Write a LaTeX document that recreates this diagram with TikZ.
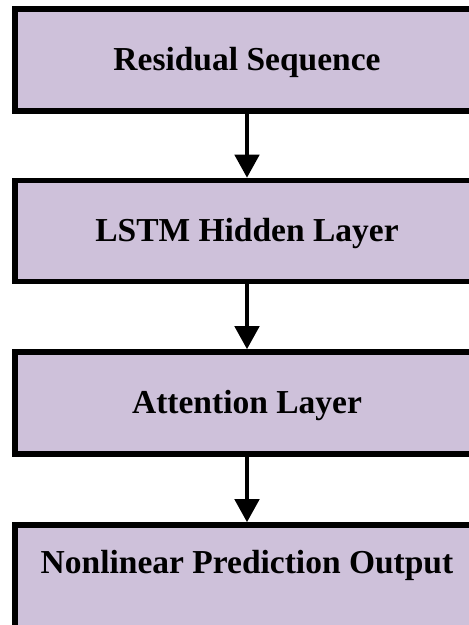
\documentclass[tikz,border=0pt]{standalone}
\usepackage{fontspec}
\setmainfont{Liberation Serif}
\usepackage{xcolor}
\usepackage{tikz}
\usetikzlibrary{arrows.meta}

\definecolor{layerfill}{RGB}{206,193,218}

\tikzset{
	layer/.style={draw=black, line width=5.5pt, fill=layerfill, minimum width=464pt, minimum height=102pt, inner sep=0pt, text height=22pt, text depth=0pt, font=\bfseries\fontsize{33.5}{40}\selectfont},
	flow/.style={line width=4.5pt, -{Triangle[length=23pt,width=24pt]}}
}

\begin{document}
\begin{tikzpicture}[x=1pt,y=1pt]
	\useasboundingbox (0,0) rectangle (469,625);
	
	\node[layer] (residual) at (247,565) {Residual Sequence};
	\node[layer, minimum height=101pt] (lstm) at (247,394) {LSTM Hidden Layer};
	\node[layer] (attention) at (247,222) {Attention Layer};
	\node[layer, anchor=base, text height=48pt, text depth=70pt] (output) at (247,52) {Nonlinear Prediction Output};
	
	\draw[flow] (residual) -- (lstm);
	\draw[flow] (lstm) -- (attention);
	\draw[flow] (attention) -- (output);
\end{tikzpicture}
\end{document}
